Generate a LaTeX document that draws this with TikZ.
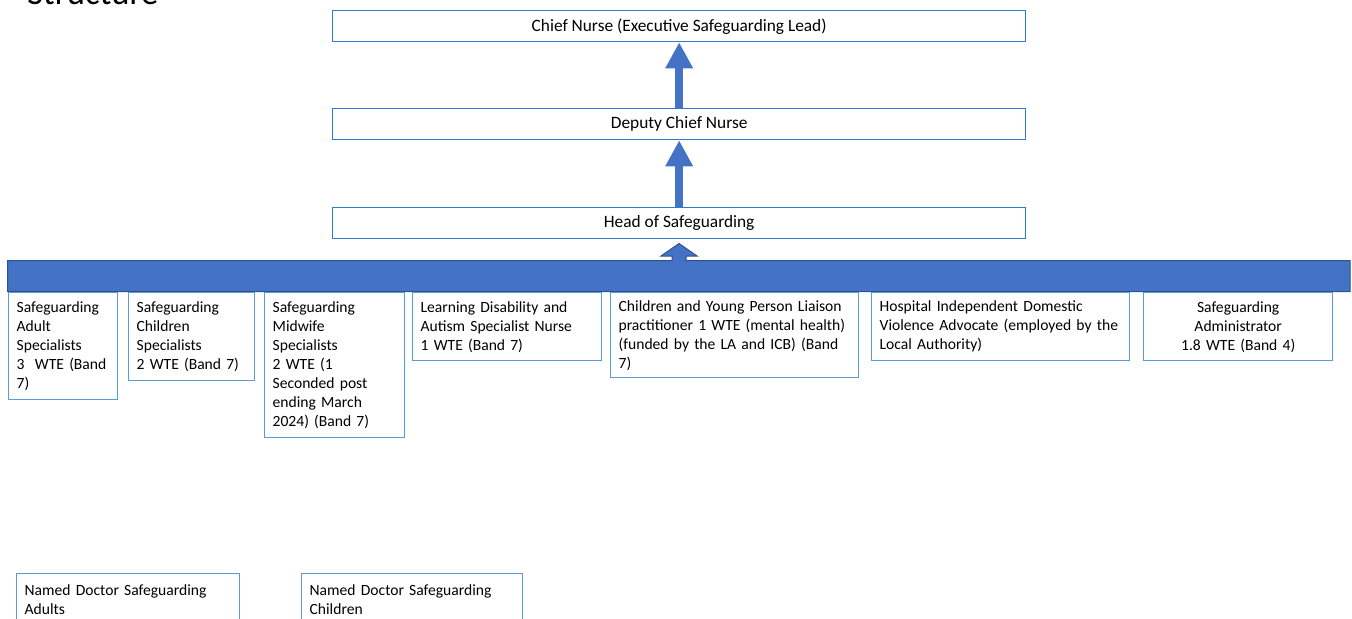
\documentclass[tikz,border=0pt]{standalone}
\usepackage{fontspec}
\setmainfont{Carlito}
\usepackage{tikz}
\usetikzlibrary{arrows.meta, positioning}
\usepackage{xcolor}
\definecolor{boxblue}{RGB}{46,125,204}
\definecolor{staffblue}{RGB}{91,155,213}
\definecolor{barfill}{RGB}{68,114,196}
\definecolor{barline}{RGB}{47,82,143}

\begin{document}
\begin{tikzpicture}[x=0.75pt, y=-0.75pt,
        topbox/.style={draw=boxblue, line width=1pt, minimum width=519.75pt, minimum height=23.25pt,
            inner sep=0pt, anchor=north west, font=\fontsize{13}{15}\selectfont},
        staffbox/.style={draw=staffblue, line width=1pt, inner xsep=6pt, inner ysep=2pt,
            anchor=north west, align=left, font=\fontsize{11.7}{14.25}\selectfont},
        promote/.style={barfill, line width=6pt, -{Triangle[width=19.5pt, length=19.5pt]}}]
        \useasboundingbox (0,0) rectangle (1352,618);

        % Heading (runs off the top edge)
        \node[anchor=base west, inner sep=0pt, font=\fontsize{26}{30}\selectfont] (title) at (27,4) {Structure};

        % Line of accountability
        \node[topbox] (chief) at (332,10) {Chief Nurse (Executive Safeguarding Lead)};
        \node[topbox] (deputy) at (332,108) {Deputy Chief Nurse};
        \node[topbox] (head) at (332,207) {Head of Safeguarding};

        \draw[promote] (deputy.north) -- (chief.south);
        \draw[promote] (head.north) -- (deputy.south);

        % Team bar with arrow up
        \draw[fill=barfill, draw=barline, line width=0.75pt]
            (7.5,291.5) -- (7.5,260.5) -- (672,260.5) -- (672,256) -- (661,256) -- (679,243.5)
            -- (697,256) -- (686,256) -- (686,260.5) -- (1350,260.5) -- (1350,291.5) -- cycle;

        % Team members
        \node[staffbox, text width=69.75pt, minimum height=80.25pt] (adult) at (8,292)
            {Safeguarding\\Adult\\Specialists\\3~~WTE (Band\\7)};
        \node[staffbox, text width=82.5pt, minimum height=66pt] (children) at (128,292)
            {Safeguarding\\Children\\Specialists\\2 WTE (Band 7)};
        \node[staffbox, text width=93pt, minimum height=108.75pt] (midwife) at (264,292)
            {Safeguarding\\Midwife\\Specialists\\2 WTE (1\\Seconded post\\ending March\\2024) (Band 7)};
        \node[staffbox, text width=129.75pt, minimum height=51pt] (ldnurse) at (412,292)
            {Learning Disability and\\Autism Specialist Nurse\\1 WTE (Band 7)};
        \node[staffbox, text width=174pt, minimum height=63.75pt] (liaison) at (610,292)
            {Children and Young Person Liaison\\practitioner 1 WTE (mental health)\\(funded by the LA and ICB) (Band\\7)};
        \node[staffbox, text width=181.5pt, minimum height=51pt] (idva) at (871,292)
            {Hospital Independent Domestic\\Violence Advocate (employed by the\\Local Authority)};
        \node[staffbox, align=center, text width=129.75pt, minimum height=51pt] (admin) at (1143,292)
            {Safeguarding\\Administrator\\1.8 WTE (Band 4)};

        % Named doctors
        \node[staffbox, text width=155.25pt, minimum height=39pt] (docadults) at (16,573)
            {Named Doctor Safeguarding\\Adults};
        \node[staffbox, text width=153.75pt, minimum height=39pt] (docchildren) at (301,573)
            {Named Doctor Safeguarding\\Children};
    \end{tikzpicture}
\end{document}
